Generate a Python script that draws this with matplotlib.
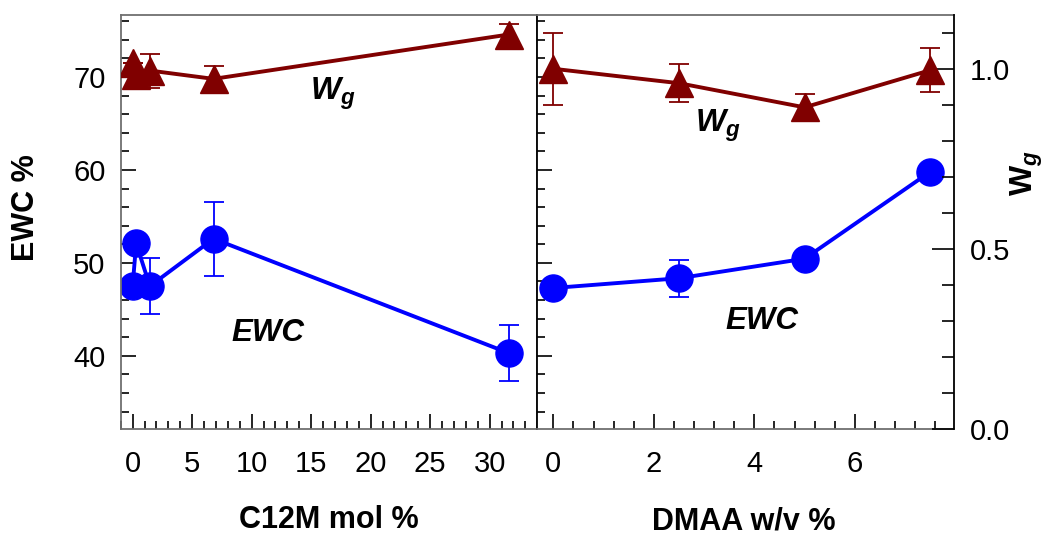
import numpy as np
import matplotlib.pyplot as plt
from matplotlib.ticker import MultipleLocator, FormatStrFormatter

plt.rcParams['font.family'] = ['Liberation Sans', 'DejaVu Sans']
plt.rcParams['mathtext.fontset'] = 'custom'
plt.rcParams['mathtext.rm'] = 'Liberation Sans'
plt.rcParams['mathtext.it'] = 'Liberation Sans:italic'
plt.rcParams['mathtext.bf'] = 'Liberation Sans:bold'
plt.rcParams['mathtext.bfit'] = 'Liberation Sans:italic:bold'

# C12M series (left panel)
c12m = [0, 0.3, 1.45, 6.8, 31.6]
ewc_c12m = [47.5, 52.1, 47.5, 52.6, 40.3]
ewc_c12m_err = [0, 0, 3.0, 4.0, 3.0]
wg_c12m = [1.016, 0.984, 0.995, 0.972, 1.095]
wg_c12m_err = [0, 0, 0.047, 0.035, 0.029]

# DMAA series (right panel)
dmaa = [0, 2.5, 5, 7.5]
ewc_dmaa = [47.3, 48.35, 50.45, 59.8]
ewc_dmaa_err = [0, 2.0, 0, 0]
wg_dmaa = [1.0, 0.96, 0.893, 0.996]
wg_dmaa_err = [0.1, 0.053, 0.038, 0.061]

blue = '#0000ff'
red = '#800000'
gray = '#707070'
W, H = 1049., 538.

fig = plt.figure(figsize=(W/100, H/100), dpi=100)
bot = 1 - 429.3/H
hgt = 414.6/H
ax1 = fig.add_axes([120.7/W, bot, 416.6/W, hgt])
ax2 = fig.add_axes([537.3/W, bot, 417.0/W, hgt])
ax1w = ax1.twinx()
ax2w = ax2.twinx()

eb = dict(ms=19.5, lw=2.8, elinewidth=1.3, capsize=7, capthick=1.3)
ax1.errorbar(c12m, ewc_c12m, yerr=ewc_c12m_err, fmt='o-', color=blue, mec=blue, **eb)
ax1w.errorbar(c12m, wg_c12m, yerr=wg_c12m_err, fmt='^-', color=red, mec=red, **eb)
ax2.errorbar(dmaa, ewc_dmaa, yerr=ewc_dmaa_err, fmt='o-', color=blue, mec=blue, **eb)
ax2w.errorbar(dmaa, wg_dmaa, yerr=wg_dmaa_err, fmt='^-', color=red, mec=red, **eb)

for ax in [ax1, ax2]:
    ax.set_ylim(32.1, 76.7)
    ax.yaxis.set_major_locator(MultipleLocator(10))
    ax.yaxis.set_minor_locator(MultipleLocator(2))
for ax in [ax1w, ax2w]:
    ax.set_ylim(0, 1.15)

ax1.set_xlim(-1, 34)
ax1.xaxis.set_major_locator(MultipleLocator(5))
ax1.xaxis.set_minor_locator(MultipleLocator(1))
ax2.set_xlim(-0.32, 7.98)
ax2.xaxis.set_major_locator(MultipleLocator(2))
ax2.xaxis.set_minor_locator(MultipleLocator(0.4))

for ax in [ax1, ax2]:
    ax.tick_params(which='both', direction='in', top=False, right=False,
                   labelsize=21, pad=15)
    ax.tick_params(axis='y', which='both', pad=11)
    ax.tick_params(which='major', length=11, width=1.2)
    ax.tick_params(which='minor', length=6, width=1.2)
ax2.tick_params(axis='y', labelleft=False)

ax1w.tick_params(which='both', right=False, labelright=False)
ax1w.set_yticks([])
ax2w.yaxis.set_major_locator(MultipleLocator(0.5))
ax2w.yaxis.set_minor_locator(MultipleLocator(0.1))
ax2w.yaxis.set_major_formatter(FormatStrFormatter('%.1f'))
ax2w.tick_params(which='both', direction='in', labelsize=21, pad=11)
ax2w.tick_params(which='major', length=16, width=1.2)
ax2w.tick_params(which='minor', length=8.5, width=1.2)

for ax in [ax1w, ax2w]:
    for s in ax.spines.values():
        s.set_visible(False)
for s in ax1.spines.values():
    s.set_color(gray)
    s.set_linewidth(1.3)
for name, s in ax2.spines.items():
    s.set_linewidth(1.3)
    s.set_color('black' if name == 'left' else gray)
ax2.spines['right'].set_visible(False)
ax2w.spines['right'].set_visible(True)
ax2w.spines['right'].set_color('black')
ax2w.spines['right'].set_linewidth(1.3)

wg_txt = r'$\mathbfit{W}_{\mathbfit{g}}$'
ax1.text(16.85, 67.5, wg_txt, fontsize=23, ha='center', va='baseline')
ax2.text(3.28, 64.1, wg_txt, fontsize=23, ha='center', va='baseline')
ax1.text(11.35, 41.6, 'EWC', fontsize=22.5, fontweight='bold', fontstyle='italic',
         ha='center', va='baseline')
ax2.text(4.16, 42.85, 'EWC', fontsize=22.5, fontweight='bold', fontstyle='italic',
         ha='center', va='baseline')

fig.text(25.8/W, 1 - 207.5/H, 'EWC %', fontsize=22, fontweight='bold',
         rotation=90, ha='center', va='center')
fig.text(1026.7/W, 1 - 173/H, r'$\mathbf{W}_{\mathbfit{g}}$', fontsize=23,
         rotation=90, ha='center', va='center')
fig.text(329/W, 1 - 528.3/H, 'C12M mol %', fontsize=22, fontweight='bold',
         ha='center', va='baseline')
fig.text(743.3/W, 1 - 530/H, 'DMAA w/v %', fontsize=22, fontweight='bold',
         ha='center', va='baseline')

fig.savefig('out.png', dpi=100)
